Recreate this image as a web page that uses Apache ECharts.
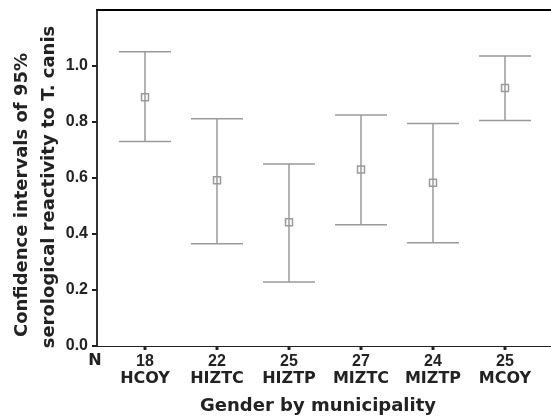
<!DOCTYPE html>
<html>
<head>
<meta charset="utf-8">
<script src="https://cdn.jsdelivr.net/npm/echarts@6/dist/echarts.min.js"></script>
<style>
html, body { margin: 0; padding: 0; background: #fff; }
#chart { width: 551px; height: 416px; }
</style>
</head>
<body>
<div id="chart"></div>
<script>
// groups, sample sizes and 95% CI
var categories = ['HCOY', 'HIZTC', 'HIZTP', 'MIZTC', 'MIZTP', 'MCOY'];
var nValues = [18, 22, 25, 27, 24, 25];
var means = [0.888, 0.592, 0.442, 0.630, 0.583, 0.921];
var lower = [0.730, 0.365, 0.229, 0.433, 0.369, 0.805];
var upper = [1.051, 0.812, 0.650, 0.825, 0.795, 1.036];
var yTicks = [0, 0.2, 0.4, 0.6, 0.8, 1.0];

var barColor = '#9a9a9a';
var numFont = 'Liberation Sans, Arial, sans-serif';
var txtFont = 'DejaVu Sans, sans-serif';

var ciData = categories.map(function (c, i) {
    return [i, lower[i], upper[i], means[i]];
});

var xMin = -48 / 72, xMax = (551 - 145) / 72;

var chart = echarts.init(document.getElementById('chart'));
chart.setOption({
    animation: false,
    grid: { left: 97, right: 0, top: 10, bottom: 70 },
    xAxis: [
        {
            type: 'value',
            min: xMin,
            max: xMax,
            splitLine: { show: false },
            axisLine: { show: true, onZero: false, lineStyle: { color: '#222', width: 1 } },
            axisTick: { show: false },
            axisLabel: {
                customValues: [0, 1, 2, 3, 4, 5],
                margin: 8,
                formatter: function (v) {
                    var i = Math.round(v);
                    return '{n|' + nValues[i] + '}\n{c|' + categories[i] + '}';
                },
                rich: {
                    n: { fontFamily: numFont, fontSize: 16, fontWeight: 'bold', color: '#222', lineHeight: 16 },
                    c: { fontFamily: txtFont, fontSize: 16, fontWeight: 'bold', color: '#222', lineHeight: 18 }
                }
            }
        },
        {
            type: 'value',
            position: 'top',
            min: xMin,
            max: xMax,
            splitLine: { show: false },
            axisLine: { show: true, onZero: false, lineStyle: { color: '#000', width: 2 } },
            axisTick: { show: false },
            axisLabel: { show: false }
        }
    ],
    yAxis: {
        type: 'value',
        min: 0,
        max: 1.2,
        interval: 0.2,
        splitLine: { show: false },
        axisLine: { show: true, onZero: false, lineStyle: { color: '#333', width: 2 } },
        axisTick: {
            show: true,
            customValues: yTicks,
            length: 5,
            lineStyle: { color: '#222', width: 2 }
        },
        axisLabel: {
            customValues: yTicks,
            margin: 9,
            fontFamily: numFont,
            fontSize: 16,
            fontWeight: 'bold',
            color: '#222',
            formatter: function (v) { return v.toFixed(1); }
        }
    },
    graphic: [
        {
            type: 'text',
            x: 22, y: 195,
            rotation: Math.PI / 2,
            style: {
                text: 'Confidence intervals of 95%',
                fontFamily: txtFont, fontSize: 18, fontWeight: 'bold', fill: '#222',
                align: 'center', verticalAlign: 'middle'
            }
        },
        {
            type: 'text',
            x: 49, y: 187,
            rotation: Math.PI / 2,
            style: {
                text: 'serological reactivity to T. canis',
                fontFamily: txtFont, fontSize: 18, fontWeight: 'bold', fill: '#222',
                align: 'center', verticalAlign: 'middle'
            }
        },
        {
            type: 'text',
            x: 95, y: 361,
            style: {
                text: 'N',
                fontFamily: txtFont, fontSize: 16, fontWeight: 'bold', fill: '#222',
                align: 'center', verticalAlign: 'middle'
            }
        },
        {
            type: 'text',
            x: 318, y: 406,
            style: {
                text: 'Gender by municipality',
                fontFamily: txtFont, fontSize: 18, fontWeight: 'bold', fill: '#222',
                align: 'center', verticalAlign: 'middle'
            }
        }
    ],
    series: [{
        type: 'custom',
        clip: false,
        data: ciData,
        renderItem: function (params, api) {
            var x = api.value(0);
            var lo = api.coord([x, api.value(1)]);
            var hi = api.coord([x, api.value(2)]);
            var mid = api.coord([x, api.value(3)]);
            var base = api.coord([x, 0]);
            var hw = 26;
            var sq = 3.5;
            var ls = { stroke: barColor, lineWidth: 1.5, fill: null };
            return {
                type: 'group',
                children: [
                    { type: 'line', shape: { x1: lo[0], y1: lo[1], x2: hi[0], y2: hi[1] }, style: ls },
                    { type: 'line', shape: { x1: hi[0] - hw, y1: hi[1], x2: hi[0] + hw, y2: hi[1] }, style: ls },
                    { type: 'line', shape: { x1: lo[0] - hw, y1: lo[1], x2: lo[0] + hw, y2: lo[1] }, style: ls },
                    { type: 'rect', shape: { x: mid[0] - sq, y: mid[1] - sq, width: sq * 2, height: sq * 2 }, style: ls },
                    // category tick under the axis
                    { type: 'line', shape: { x1: base[0], y1: base[1], x2: base[0], y2: base[1] + 4 },
                      style: { stroke: '#222', lineWidth: 3 } }
                ]
            };
        }
    }]
});
</script>
</body>
</html>
